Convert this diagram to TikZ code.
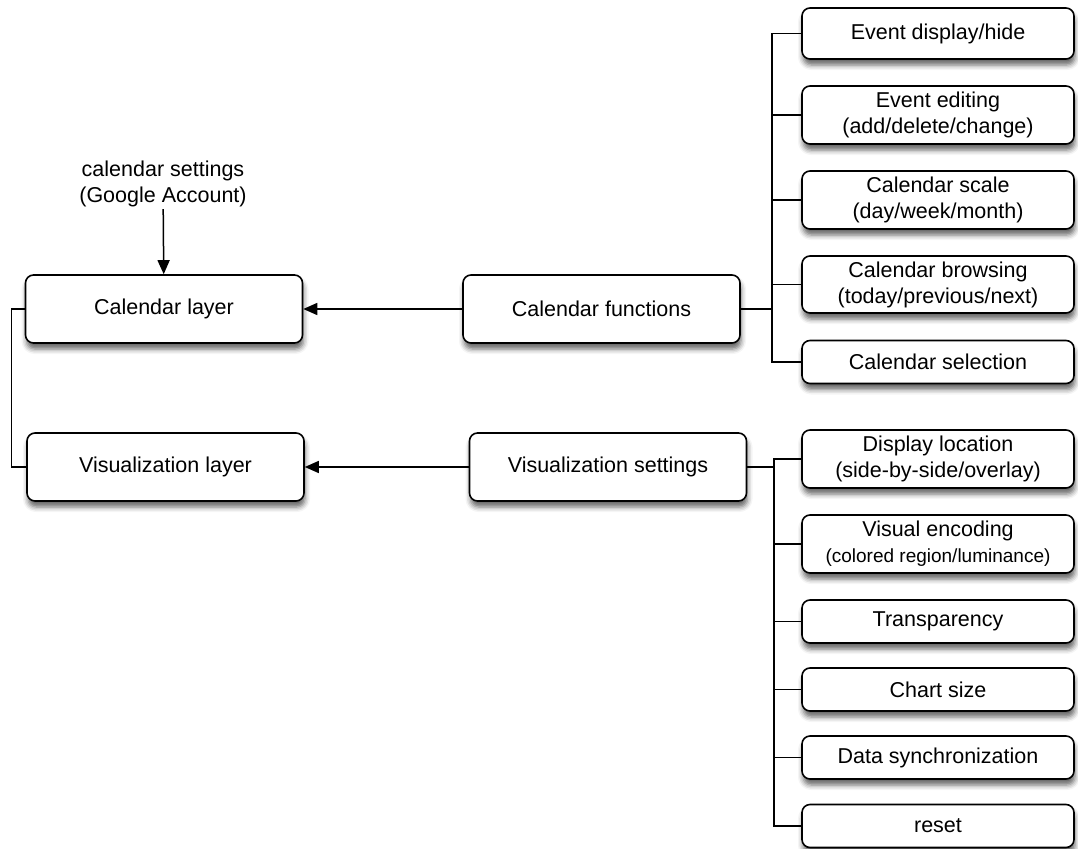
\documentclass[tikz,border=0pt]{standalone}
\usepackage{fontspec}
\setmainfont{Liberation Sans}
\usetikzlibrary{arrows.meta,shadows.blur}

\begin{document}
\begin{tikzpicture}[x=1pt,y=-1pt]
        \useasboundingbox (0,0) rectangle (1078,848);
        % left and middle boxes
        \begin{scope}[every node/.style={draw, fill=white, line width=1.6pt, rounded corners=8pt, inner sep=0pt,
                        minimum width=277pt, minimum height=68pt, align=center, font=\fontsize{21.5}{26}\selectfont,
                        blur shadow={shadow xshift=1pt, shadow yshift=-6pt, shadow blur radius=5pt, shadow opacity=60}}]
                \node (CL) at (164,309) {Calendar layer};
                \node (VL) at (165.5,467) {Visualization layer};
                \node (CF) at (601.5,309) {Calendar functions};
                \node (VS) at (608,467) {Visualization settings};
        \end{scope}
        % right column
        \begin{scope}[every node/.style={draw, fill=white, line width=1.6pt, rounded corners=8pt, inner sep=0pt,
                        minimum width=272pt, minimum height=43pt, align=center, font=\fontsize{21.5}{26}\selectfont,
                        blur shadow={shadow xshift=1pt, shadow yshift=-6pt, shadow blur radius=5pt, shadow opacity=60}}]
                \node (E1) at (938,33.5) [minimum height=51pt] {Event display/hide};
                \node (E2) at (938,115) [minimum height=58pt] {Event editing\\(add/delete/change)};
                \node (E3) at (938,200) [minimum height=58pt] {Calendar scale\\(day/week/month)};
                \node (E4) at (938,284.5) [minimum height=57pt] {Calendar browsing\\(today/previous/next)};
                \node (E5) at (938,362) {Calendar selection};

                \node (D1) at (938,459) [minimum height=58pt] {Display location\\(side-by-side/overlay)};
                \node (D2) at (938,544) [minimum height=58pt] {Visual encoding\\{\fontsize{19}{26}\selectfont(colored region/luminance)}};
                \node (D3) at (938,621.5) {Transparency};
                \node (D4) at (938,689.5) {Chart size};
                \node (D5) at (938,757.5) {Data synchronization};
                \node (D6) at (938,826) {reset};
        \end{scope}
        \node (GS) at (163,184) [align=center, inner sep=2pt, font=\fontsize{21.5}{26}\selectfont] {calendar settings\\(Google Account)};

        \coordinate (cfj) at (772,309);
        \coordinate (vsj) at (774,467);
        \begin{scope}[line width=1.5pt, >={Triangle[length=14pt,width=12pt]}]
                \path (GS) edge[->] (CL);
                \path (CF) edge[->] (CL);
                \path (VS) edge[->] (VL);
                \draw (CL.west) -- ++(-13,0) |- (VL.west);

                \draw (CF) -- (cfj);
                \foreach \n in {E1,E2,E3,E4,E5}
                        \draw (cfj) |- (\n.west);
                \draw (VS) -- (vsj);
                \foreach \n in {D1,D2,D3,D4,D5,D6}
                        \draw (vsj) |- (\n.west);
        \end{scope}
\end{tikzpicture}
\end{document}
